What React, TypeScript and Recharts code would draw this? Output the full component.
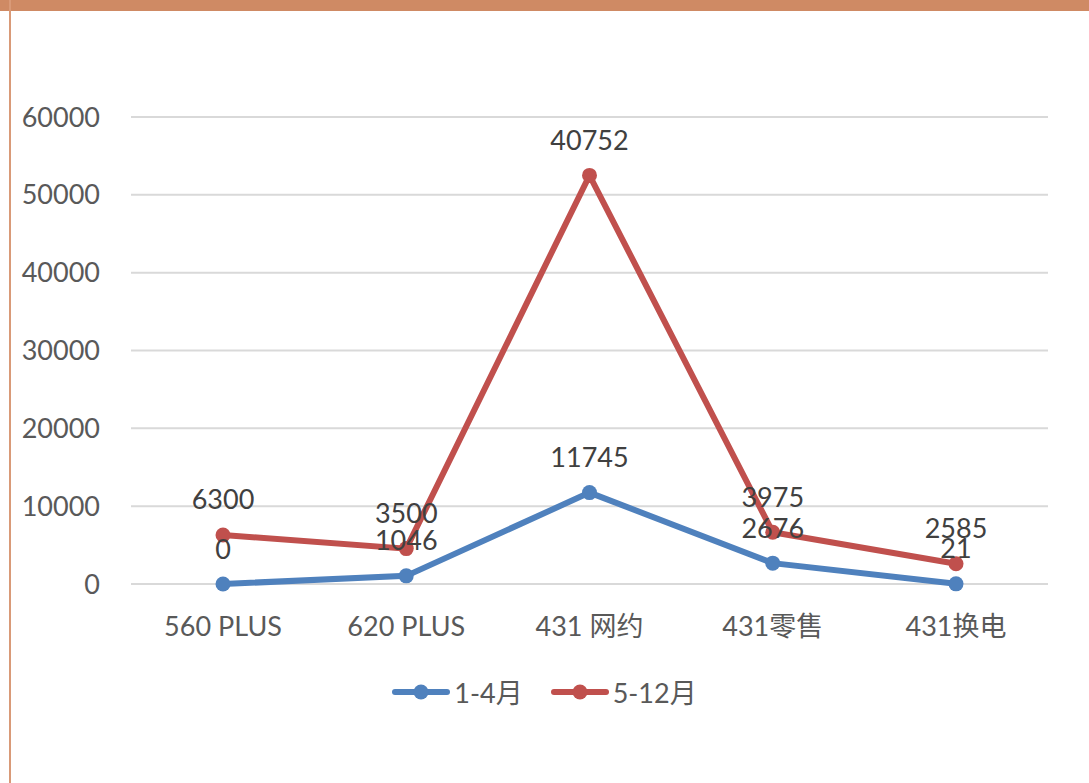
import { LineChart, Line, XAxis, YAxis, CartesianGrid, LabelList } from "recharts";

const categories = ["560 PLUS", "620 PLUS", "431 网约", "431零售", "431换电"];
const janApr = [0, 1046, 11745, 2676, 21];
const mayDec = [6300, 3500, 40752, 3975, 2585];
const yTicks = [0, 10000, 20000, 30000, 40000, 50000, 60000];

const seriesNames = ["1-4月", "5-12月"];
const BLUE = "#4F81BD";
const RED = "#C0504D";
const FONT = "Lato, 'Noto Sans CJK SC', sans-serif";

// stacked line: second series sits on top of the first
const data = categories.map((name, i) => ({
  name,
  a: janApr[i],
  b: mayDec[i],
  aTop: janApr[i],
  bTop: janApr[i] + mayDec[i],
}));

const renderLabel = (props: any) => {
  const { x, y, value } = props;
  return (
    <text
      x={x}
      y={y - 36}
      textAnchor="middle"
      dominantBaseline="central"
      fontSize={27}
      fontFamily={FONT}
      fill="#404040"
    >
      {value}
    </text>
  );
};

const ChartLegend = () => (
  <div
    style={{
      position: "absolute",
      top: 672,
      left: 0,
      width: 1089,
      display: "flex",
      justifyContent: "center",
      alignItems: "center",
      gap: 28,
      fontFamily: FONT,
      fontSize: 27,
      color: "#595959",
    }}
  >
    {seriesNames.map((n, i) => {
      const c = i === 0 ? BLUE : RED;
      return (
        <div key={n} style={{ display: "flex", alignItems: "center" }}>
          <svg width={58} height={16} style={{ marginRight: 4 }}>
            <line x1={3} y1={8} x2={55} y2={8} stroke={c} strokeWidth={6} strokeLinecap="round" />
            <circle cx={29} cy={8} r={7.5} fill={c} />
          </svg>
          <span>{n}</span>
        </div>
      );
    })}
  </div>
);

export default function App() {
  return (
    <div
      style={{
        position: "absolute",
        top: 0,
        left: 0,
        width: 1089,
        height: 783,
        background: "#fff",
        overflow: "hidden",
      }}
    >
      <div style={{ position: "absolute", top: 0, left: 0, width: 1089, height: 11, background: "#CF8A64" }} />
      <div style={{ position: "absolute", top: 0, left: 9, width: 2, height: 783, background: "#D99A78" }} />
      <div style={{ position: "absolute", top: 0, left: 0 }}>
        <LineChart
          width={1089}
          height={783}
          data={data}
          margin={{ top: 117, right: 41, bottom: 139, left: 0 }}
        >
          <CartesianGrid vertical={false} stroke="#D9D9D9" strokeWidth={2} />
          <XAxis
            dataKey="name"
            axisLine={false}
            tickLine={false}
            tickSize={0}
            tickMargin={33}
            height={60}
            padding={{ left: 92, right: 92 }}
            tick={{ fontSize: 27, fontFamily: FONT, fill: "#595959" }}
          />
          <YAxis
            domain={[0, 60000]}
            ticks={yTicks}
            width={131}
            axisLine={false}
            tickLine={false}
            tickSize={0}
            tickMargin={31}
            tick={{ fontSize: 27, fontFamily: FONT, fill: "#595959" }}
          />
          <Line
            dataKey="aTop"
            name={seriesNames[0]}
            stroke={BLUE}
            strokeWidth={6}
            dot={{ r: 7.5, fill: BLUE, stroke: "none" }}
            isAnimationActive={false}
          >
            <LabelList dataKey="a" content={renderLabel} />
          </Line>
          <Line
            dataKey="bTop"
            name={seriesNames[1]}
            stroke={RED}
            strokeWidth={6}
            dot={{ r: 7.5, fill: RED, stroke: "none" }}
            isAnimationActive={false}
          >
            <LabelList dataKey="b" content={renderLabel} />
          </Line>
        </LineChart>
      </div>
      <ChartLegend />
    </div>
  );
}
